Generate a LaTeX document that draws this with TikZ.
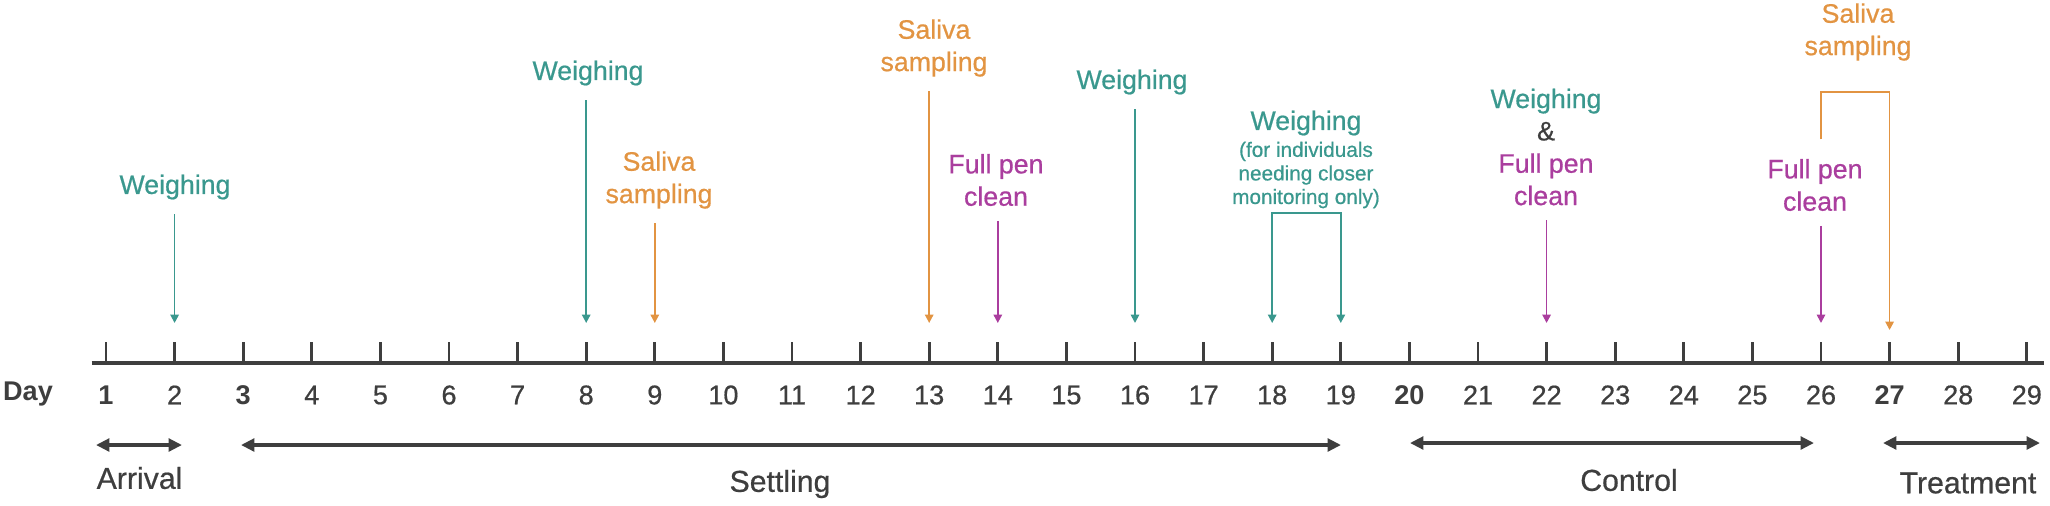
\documentclass[tikz,border=0pt]{standalone}
\usepackage{fontspec}
\setmainfont{Liberation Sans}
\newfontfamily\medfont{Liberation Sans}[FakeBold=0.6]
\usepackage{tikz}
\usetikzlibrary{arrows.meta,positioning,calc}
\usepackage{xcolor}
\definecolor{tlteal}{RGB}{58,152,142}
\definecolor{tlorange}{RGB}{226,148,66}
\definecolor{tlpurple}{RGB}{170,62,158}
\definecolor{tlgrey}{RGB}{62,62,62}
\tikzstyle{evtarrow} = [line width=0.5pt,->,>={Triangle[length=2.4pt,width=2.4pt]},shorten <=4pt]
\tikzstyle{phasearrow} = [line width=0.95pt,color=tlgrey,<->,>={Triangle[length=3.8pt,width=3.6pt]}]
\tikzstyle{evtlabel} = [inner sep=0pt, align=center, font=\medfont\fontsize{7.6}{9.2}\selectfont]
\tikzstyle{notelabel} = [inner sep=0pt, align=center, font=\medfont\fontsize{5.9}{6.7}\selectfont, text=tlteal]
\tikzstyle{daynum} = [inner sep=0pt, font=\medfont\fontsize{7.7}{9}\selectfont, text=tlgrey]
\tikzstyle{phaselabel} = [inner sep=0pt, font=\medfont\fontsize{8.6}{10}\selectfont, text=tlgrey]
\tikzstyle{daytick} = [line width=0.8pt, color=tlgrey]

\begin{document}
\begin{tikzpicture}[x=0.01cm, y=-0.01cm]
\useasboundingbox (0,0) rectangle (2050,505);

% Axis
\coordinate (axl) at (91.5,363);
\coordinate (axr) at (2044,363);
\draw[line width=1.15pt, tlgrey] (axl) -- (axr);
\node[daynum, font=\fontsize{7.7}{9}\selectfont\bfseries] (day) at (28,394) {Day};
\foreach \d in {1,...,29}{
  \pgfmathsetmacro{\xd}{106+(\d-1)*68.6}
  \pgfmathtruncatemacro{\isb}{(\d==1)||(\d==3)||(\d==20)||(\d==27)}
  \coordinate (d\d) at (\xd,363);
  \coordinate (p\d) at (\xd,323);
  \draw[daytick] (d\d) -- ++(0,-21);
  \node[daynum] (n\d) at (\xd,395) {\ifnum\isb=1 \normalfont\bfseries\fi\d};
}

% Phases
\coordinate (arrl) at (96,445);
\coordinate (arrr) at (182,445);
\coordinate (setl) at (241,445);
\coordinate (setr) at (1341,445);
\coordinate (conl) at (1410,443);
\coordinate (conr) at (1814,443);
\coordinate (trel) at (1883,443);
\coordinate (trer) at (2040,443);
\draw[phasearrow] (arrl) -- (arrr);
\draw[phasearrow] (setl) -- (setr);
\draw[phasearrow] (conl) -- (conr);
\draw[phasearrow] (trel) -- (trer);
\node[phaselabel, anchor=west] (arrival) at (96,478) {Arrival};
\node[phaselabel] (settling) at (780,484) {Settling};
\node[phaselabel] (control) at (1629,480) {Control};
\node[phaselabel] (treatment) at (1968,483) {Treatment};

% Events
\node[evtlabel, text=tlteal] (w2) at (175,187) {Weighing};
\node[evtlabel, text=tlteal] (w8) at (588,73) {Weighing};
\node[evtlabel, text=tlorange] (s9) at (659,180) {Saliva\\sampling};
\node[evtlabel, text=tlorange] (s13) at (934,48) {Saliva\\sampling};
\node[evtlabel, text=tlpurple] (f14) at (996,180) {Full pen\\clean};
\node[evtlabel, text=tlteal] (w16) at (1132,82) {Weighing};
\node[evtlabel, text=tlteal] (w18) at (1306,123) {Weighing};
\node[notelabel, below=1.4pt of w18] (w18n) {(for individuals\\needing closer\\monitoring only)};
\node[evtlabel, text=tlgrey] (w22) at (1546,147) {\textcolor{tlteal}{Weighing}\\\&\\\textcolor{tlpurple}{Full pen}\\\textcolor{tlpurple}{clean}};
\node[evtlabel, text=tlpurple] (f26) at (1815,185) {Full pen\\clean};
\node[evtlabel, text=tlorange] (s27) at (1858,32) {Saliva\\sampling};

% Event arrows
\draw[evtarrow, tlteal] (w2.south -| p2) -- (p2);
\draw[evtarrow, tlteal] (w8.south -| p8) -- (p8);
\draw[evtarrow, tlorange] (s9.south -| p9) -- (p9);
\draw[evtarrow, tlorange] (s13.south -| p13) -- (p13);
\draw[evtarrow, tlpurple] (f14.south -| p14) -- (p14);
\draw[evtarrow, tlteal] (w16.south -| p16) -- (p16);
\draw[evtarrow, tlpurple] (w22.south -| p22) -- (p22);
\draw[evtarrow, tlpurple] (f26.south -| p26) -- (p26);

% Brackets
\coordinate (b18) at (1306,213);
\draw[evtarrow, <->, shorten <=0pt, tlteal] (p18) |- (b18) -| (p19);
\coordinate (b27) at (1855,92);
\coordinate (p27b) at ($(p27)+(0,7)$);
\draw[evtarrow, shorten <=0pt, tlorange] ([yshift=5.4pt]f26.north -| p26) |- (b27) -| (p27b);
\end{tikzpicture}
\end{document}
